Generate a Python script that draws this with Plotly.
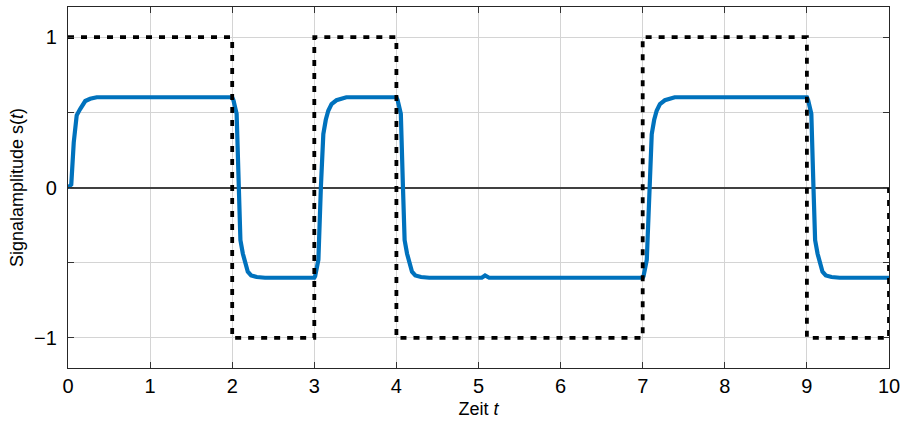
import plotly.graph_objects as go

# Square-wave reference signal (dotted)
t_sq = [0, 2, 2, 3, 3, 4, 4, 7, 7, 9, 9, 10, 10]
y_sq = [1, 1, -1, -1, 1, 1, -1, -1, 1, 1, -1, -1, 0]

# Received signal s(t) (blue)
t_sig = [0.00, 0.04, 0.07, 0.106, 0.146, 0.21, 0.27, 0.35,
         2.00, 2.015, 2.054, 2.08, 2.10, 2.13, 2.16, 2.19, 2.23, 2.30, 2.40,
         3.00, 3.01, 3.05, 3.08, 3.11, 3.14, 3.17, 3.21, 3.27, 3.39,
         4.00, 4.015, 4.054, 4.08, 4.10, 4.13, 4.16, 4.19, 4.23, 4.30, 4.40,
         5.04, 5.08, 5.13,
         7.00, 7.01, 7.05, 7.08, 7.11, 7.14, 7.17, 7.21, 7.27, 7.39,
         9.00, 9.015, 9.054, 9.08, 9.10, 9.13, 9.16, 9.19, 9.23, 9.30, 9.40,
         10.0]
s_sig = [0.00, 0.02, 0.30, 0.48, 0.52, 0.575, 0.59, 0.60,
         0.60, 0.58, 0.49, 0.00, -0.35, -0.44, -0.50, -0.56, -0.585, -0.595, -0.60,
         -0.60, -0.59, -0.48, 0.00, 0.355, 0.45, 0.51, 0.555, 0.58, 0.60,
         0.60, 0.58, 0.49, 0.00, -0.35, -0.44, -0.50, -0.56, -0.585, -0.595, -0.60,
         -0.60, -0.585, -0.60,
         -0.60, -0.59, -0.48, 0.00, 0.355, 0.45, 0.51, 0.555, 0.58, 0.60,
         0.60, 0.58, 0.49, 0.00, -0.35, -0.44, -0.50, -0.56, -0.585, -0.595, -0.60,
         -0.60]

x_ticks = list(range(0, 11))
y_tickvals = [-1, -0.5, 0, 0.5, 1]
y_ticktext = ["\u22121", "", "0", "", "1"]

fig = go.Figure()
fig.add_trace(go.Scatter(x=t_sig, y=s_sig, mode="lines",
                         line=dict(color="#0072BD", width=4.2), showlegend=False))
fig.add_trace(go.Scatter(x=t_sq, y=y_sq, mode="lines",
                         line=dict(color="black", width=3.8, dash="6px,7px"),
                         showlegend=False))

font = "Liberation Sans, Arial, Helvetica, sans-serif"
fig.update_layout(
    width=904, height=422,
    margin=dict(l=68, r=15, t=7, b=54),
    paper_bgcolor="white", plot_bgcolor="white",
    font=dict(family=font, color="black"),
    xaxis=dict(range=[0, 10], tickvals=x_ticks, showgrid=True, gridcolor="#d4d4d4",
               gridwidth=1, zeroline=False, showline=True, linecolor="#262626",
               linewidth=1.2, mirror="ticks", ticks="inside", ticklen=6,
               tickcolor="#333333", tickfont=dict(size=20), automargin=False,
               title=dict(text="Zeit <i>t</i>", font=dict(size=18), standoff=6)),
    yaxis=dict(range=[-1.2, 1.2], tickvals=y_tickvals, ticktext=y_ticktext,
               showgrid=True, gridcolor="#d4d4d4", gridwidth=1,
               zeroline=True, zerolinecolor="#404040", zerolinewidth=1.5,
               showline=True, linecolor="#262626", linewidth=1.2, mirror="ticks",
               ticks="inside", ticklen=6, tickcolor="#333333",
               tickfont=dict(size=20), automargin=False, ticklabelstandoff=6,
               title=dict(text="Signalamplitude s(<i>t</i>)",
                          font=dict(size=18), standoff=5)),
)

fig.write_html("out.html")
